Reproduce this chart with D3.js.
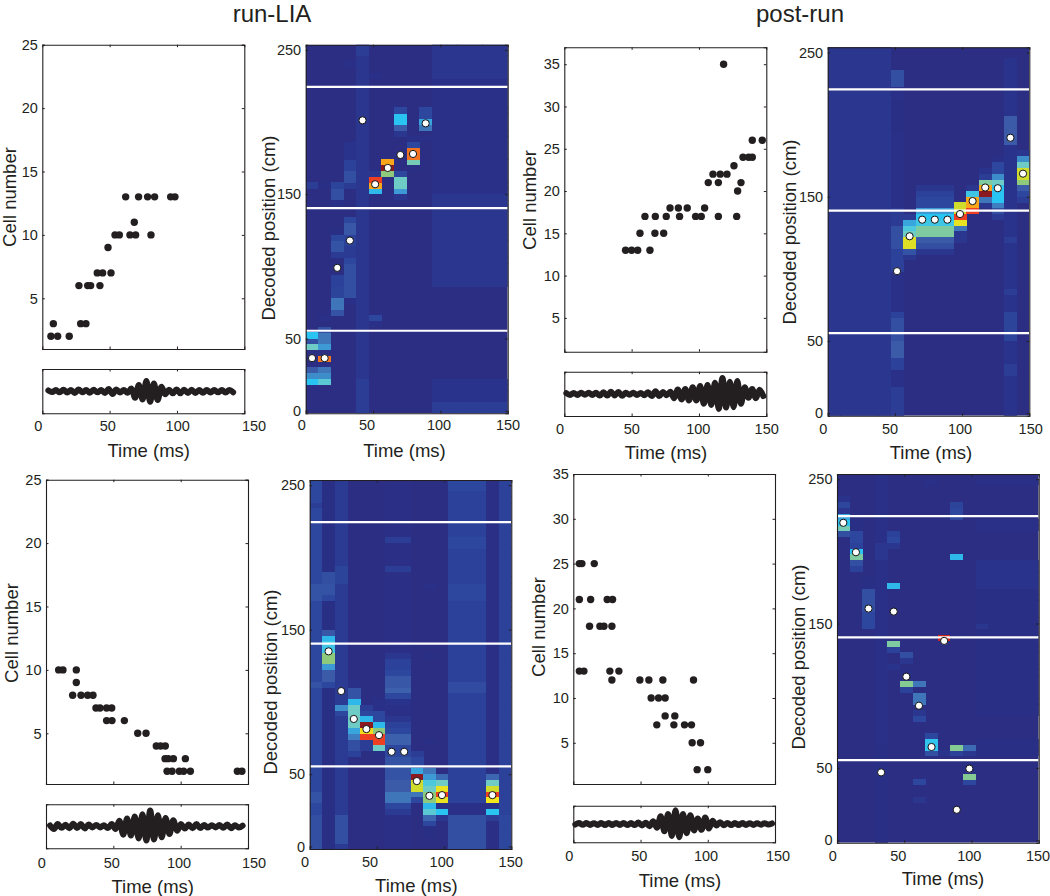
<!DOCTYPE html>
<html><head><meta charset="utf-8">
<script src="https://cdnjs.cloudflare.com/ajax/libs/d3/7.8.5/d3.min.js"></script>
<style>
html,body{margin:0;padding:0;background:#fff}
text{font-family:"Liberation Sans",Arial,sans-serif;fill:#231f20}
</style></head><body><svg id="c" width="1050" height="896"></svg>
<script>
const titles = ["run-LIA", "post-run"];
const timeBinMs = 9.375, posBinCm = 4, posOriginCm = -1.8, nCols = 16, nRows = 64;
const boundariesCm = [224.4, 140.4, 55.4];
const heatTicks = [0, 50, 150, 250];
const timeTicks = [0, 50, 100, 150];

// raster: [cell, [spike times ms]]
const rasterA = [[13,[61.9,71.5,78.2,83.4,95.3,98.5]],[11,[68.3]],[10,[54,57.2,65.1,69.3,80.7]],[9,[48.8]],[7,[40.8,44.8,51]],[6,[27.2,33.7,35.9,42.8]],[3,[8.2,28.5,32.4]],[2,[6.4,11.4,20]]];
const rasterB = [[35,[118.3]],[26,[139.6,147]],[24,[132.7,136.9,139.6]],[23,[126]],[22,[110.4,115.8,120.8]],[21,[106.9,114.4,131.2]],[20,[128.7]],[18,[78.5,84.7,91.3,104.2]],[17,[59.9,67.6,75.7,85.6,97.5,101.7,114.4,128]],[15,[56.2,67.3,73.8]],[13,[45.5,50,54.5,63.6]]];
const rasterC = [[10,[9.4,12.6,22.5]],[9,[22.5]],[8,[19.8,26,30.9,34.9]],[7,[37.1,40.1,45,48.8]],[6,[45,49,58.2]],[5,[68.1,74.3]],[4,[81.9,85.1,88.6]],[3,[88.4,90.8,94.6,103.5]],[2,[89.9,93.6,99,102.2,107.2,142.1,145.5]]];
const rasterD = [[25,[4.5,6.4,15.6]],[21,[4.5,12.9,25.2,29.2]],[18,[12.1,19.8,22.8,28.7]],[13,[4.5,7.9,27.2,33.9]],[12,[28.7,49.5,56.2,66.6,89.4]],[10,[57.9,63.4,68.3]],[8,[68.3,75.5]],[7,[62.1,74.8,82.7,87.9]],[5,[88.4,94.6]],[2,[92.1,100]]];

// ripple-band trace: signed samples
const lfpA = [.03,-.04,.05,-.05,.06,-.06,.05,-.08,.08,-.05,.05,-.07,.06,-.05,.05,-.08,.1,-.13,.08,-.06,.05,-.07,.12,-.3,.28,-.38,.46,-.48,.34,-.4,.2,-.14,.06,-.1,.08,-.1,.06,-.08,.06,-.08,.05,-.07,.05,-.06,.05,-.05,.05,-.06,.05,-.05];
const lfpB = [.03,-.05,.04,-.05,.05,-.04,.05,-.05,.05,-.08,.07,-.08,.09,-.07,.08,-.09,.05,-.04,.05,-.05,.04,-.06,.07,-.1,.12,-.1,.08,-.06,.1,-.2,.2,-.25,.22,-.3,.3,-.3,.35,-.45,.4,-.5,.5,-.68,.72,-.62,.55,-.6,.58,-.45,.3,-.18,.22,-.2,.18,-.1];
const lfpC = [.04,-.12,.1,-.07,.07,-.09,.12,-.08,.1,-.1,.08,-.05,.06,-.05,.05,-.08,.1,-.12,.25,-.38,.35,-.42,.45,-.55,.55,-.65,.72,-.6,.5,-.5,.38,-.35,.28,-.2,.1,-.1,.08,-.09,.1,-.08,.06,-.06,.05,-.05,.06,-.07,.08,-.09,.05,-.06,.03];
const lfpD = [-.03,.05,-.04,.05,-.05,.04,-.05,.05,-.05,.05,-.05,.06,-.05,.06,-.06,.05,-.06,.08,-.08,.07,-.12,.15,-.2,.42,-.4,.55,-.65,.75,-.72,.55,-.5,.48,-.35,.3,-.32,.35,-.25,.18,-.08,.1,-.07,.06,-.06,.05,-.05,.05,-.05,.04,-.05,.04,-.04,.04,-.03,.03];

// decoded position per time bin: [column, cm]
const decodedA = [[0,36.4],[1,36.4],[2,99],[3,117.9],[4,201.2],[5,156.9],[6,168.2],[7,177.2],[8,177.9],[9,199.1]];
const decodedB = [[5,98.4],[6,122.6],[7,134.1],[8,134.1],[9,134.1],[10,138],[11,147],[12,156.4],[13,155.9],[14,190.9],[15,166]];
const decodedC = [[1,135],[2,107.5],[3,88.2],[4,81.2],[5,77],[6,65.5],[7,65.5],[8,45.2],[9,35],[10,35.5],[14,35.5]];
const decodedD = [[0,219.8],[1,199.4],[2,160.4],[3,46.9],[4,158.3],[5,113.2],[6,93.1],[7,64.5],[8,138],[9,21],[10,49.5]];

// posterior probability, as runs: [firstCol, lastCol, firstRow, endRow, value]
const heatA = [
[4,4,0,64,.05],[4,4,0,6,.07],[4,4,62,64,.07],
[10,15,0,2,.07],[10,15,2,6,.04],[10,15,22,38,.05],[10,15,38,58,.03],[10,15,58,64,.05],
[0,0,39,40,.07],[1,1,39,40,.02],[2,2,39,40,.09],[2,2,37,39,.12],[2,2,36,37,.03],
[3,3,44,47,.04],[3,3,42,44,.08],[3,3,40,42,.12],[3,3,39,40,.06],[3,3,60,61,.03],
[2,2,31,32,.02],[2,2,30,31,.1],[2,2,28,30,.13],[2,2,27,28,.06],[2,2,22,24,.08],[2,2,20,22,.09],[2,2,18,20,.2],[2,2,17,18,.13],
[3,3,33,34,.1],[3,3,31,33,.14],[3,3,29,31,.08],[3,3,27,29,.06],[3,3,26,27,.1],[3,3,20,26,.12],[3,3,19,20,.03],
[1,1,16,17,.03],[1,1,14,15,.12],[1,1,12,14,.2],[1,1,11,12,.28],[1,1,9,10,.85],[1,1,7,8,.2],[1,1,6,7,.25],[1,1,5,6,.42],
[0,0,13,14,.35],[0,0,12,13,.12],[0,0,11,12,.45],[0,0,7,8,.15],[0,0,6,7,.25],[0,0,5,6,.35],
[5,5,16,17,.1],[5,5,15,16,.03],[5,5,58,59,.03],[5,5,41,42,.05],[5,5,40,41,.9],[5,5,39,40,.8],[5,5,38,39,.33],
[6,6,43,44,.8],[6,6,42,43,1],[6,6,41,42,.55],
[7,7,52,53,.1],[7,7,50,52,.35],[7,7,49,50,.15],[7,7,48,49,.05],[7,7,41,42,.1],[7,7,39,41,.45],[7,7,38,39,.28],[7,7,37,38,.05],
[8,8,46,47,.1],[8,8,44,46,.85],[8,8,43,44,.47],[8,8,42,43,.02],
[9,9,51,53,.1],[9,9,50,51,.3],[9,9,49,50,.2],[8,9,47,48,.03]];
const heatB = [
[0,4,0,64,.05],[5,5,0,5,.07],[5,5,5,8,.03],[5,5,8,10,.08],[5,5,10,13,.15],[5,5,13,17,.12],[5,5,17,18,.08],[5,5,18,25,.03],[5,5,25,29,.08],[5,5,29,33,.12],[5,5,33,36,.06],[5,5,36,49,.03],[5,5,49,55,.02],[5,5,55,57,.03],[5,5,57,60,.12],
[6,6,34,35,.06],[6,6,33,34,.3],[6,6,32,33,.4],[6,6,31,32,.45],[6,6,29,31,.68],[6,6,28,29,.13],[6,6,27,28,.05],
[7,9,39,40,.05],[7,9,38,39,.08],[7,9,36,38,.1],[7,9,35,36,.28],[7,9,34,35,.35],[7,9,33,34,.38],[7,9,31,33,.5],[7,9,30,31,.15],[7,9,29,30,.12],[7,9,28,29,.05],
[10,10,35,37,.65],[10,10,34,35,.9],[10,10,33,34,.7],[10,10,32,33,.2],[10,10,30,32,.05],
[11,11,39,40,.05],[11,11,38,39,.38],[11,11,36,38,.8],[11,11,35,36,.9],
[12,12,42,43,.04],[12,12,41,42,.07],[12,12,40,41,.5],[12,12,39,40,.8],[12,12,38,39,1],[12,12,37,38,.2],[12,12,36,37,.05],
[13,13,44,45,.03],[13,13,42,44,.1],[13,13,41,42,.25],[13,13,40,41,.45],[13,13,37,40,.35],[13,13,36,37,.22],[13,13,35,36,.12],[13,13,34,35,.06],
[14,14,0,62,.04],[14,14,47,52,.15],[14,14,30,31,.07],[14,14,21,22,.07],[14,14,13,18,.09],[14,14,7,9,.07],
[15,15,45,46,.05],[15,15,44,45,.25],[15,15,43,44,.45],[15,15,41,43,.65],[15,15,40,41,.55],[15,15,39,40,.15],[15,15,38,39,.1],[15,15,37,38,.07]];
const heatC = [
[0,0,0,64,.1],[0,0,43,46,.13],[0,0,28,29,.13],[0,0,0,6,.12],[0,0,59,60,.07],[0,0,8,10,.13],
[1,1,0,64,.02],[1,1,46,48,.12],[1,1,44,46,.13],[1,1,43,44,.1],[1,1,37,38,.14],[1,1,36,37,.33],[1,1,34,36,.38],[1,1,32,34,.55],[1,1,31,32,.28],[1,1,29,31,.15],[1,1,28,29,.1],
[2,2,0,64,.06],[2,2,46,49,.09],[2,2,24,25,.25],[2,2,23,24,.1],[2,2,1,6,.12],
[3,3,28,29,.03],[3,3,26,28,.13],[3,3,25,26,.33],[3,3,21,25,.45],[3,3,20,21,.3],[3,3,19,20,.22],[3,3,17,19,.12],[3,3,16,17,.08],
[4,4,24,25,.07],[4,4,23,24,.1],[4,4,22,23,.33],[4,4,21,22,1],[4,4,20,21,.73],[4,4,19,20,.9],[4,4,17,19,.07],
[5,5,24,26,.03],[5,5,22,24,.1],[5,5,21,22,.33],[5,5,20,21,.55],[5,5,18,20,.9],[5,5,17,18,.45],[5,5,16,17,.02],
[6,7,0,64,.01],[6,7,33,34,.05],[6,7,31,33,.08],[6,7,30,31,.1],[6,7,28,30,.14],[6,7,27,28,.16],[6,7,26,27,.1],[6,7,25,26,.04],[6,7,24,25,.03],[6,7,22,23,.05],[6,7,21,22,.08],[6,7,20,21,.1],[6,7,18,20,.16],[6,7,16,18,.1],[6,7,12,16,.13],[6,7,10,12,.15],[6,7,8,10,.2],[6,7,7,8,.1],[6,7,6,7,.06],[6,7,53,54,.07],[6,7,48,49,.07],
[8,8,16,17,.07],[8,8,14,16,.1],[8,8,13,14,.3],[8,8,12,13,1],[8,8,10,12,.65],[8,8,9,10,.2],[8,8,8,9,.1],
[9,9,18,19,.02],[9,9,13,14,.2],[9,9,12,13,.28],[9,9,11,12,.4],[9,9,10,11,.45],[9,9,8,10,.55],[9,9,7,8,.33],[9,9,6,7,.42],[9,9,5,6,.17],[9,9,4,5,.1],[9,9,2,4,.02],[9,9,45,46,.03],[9,9,33,34,.02],
[10,10,12,13,.18],[10,10,11,12,.45],[10,10,10,11,.7],[10,10,9,10,.9],[10,10,8,9,.7],[10,10,7,8,.03],[10,10,6,7,.35],[10,10,5,6,.05],
[11,13,0,64,.08],[11,13,62,64,.1],[11,13,0,6,.12],[11,13,6,8,.03],[11,13,52,54,.1],[11,13,43,46,.1],[11,13,27,29,.11],
[14,14,0,64,.01],[14,14,12,13,.17],[14,14,11,12,.45],[14,14,10,11,.65],[14,14,9,10,.9],[14,14,8,9,.72],[14,14,7,8,.03],[14,14,6,7,.35],[14,14,5,6,.07],
[15,15,0,64,.08],[15,15,0,6,.1]];
const heatD = [
[3,3,17,64,.03],[3,3,49,52,.05],[3,3,0,17,.02],
[0,0,59,60,.04],[0,0,58,59,.1],[0,0,57,58,.05],[0,0,56,57,.3],[0,0,55,56,.35],[0,0,54,55,.47],[0,0,53,54,.12],
[1,1,54,56,.02],[1,1,52,54,.1],[1,1,51,52,.08],[1,1,50,51,.35],[1,1,49,50,.5],[1,1,48,49,.12],[1,1,47,48,.08],
[2,2,44,46,.02],[2,2,40,44,.12],[2,2,38,40,.1],[2,2,37,38,.1],
[4,4,53,54,.08],[4,4,52,53,.1],[4,4,51,52,.05],[4,4,44,45,.33],[4,4,34,35,.5],[4,4,33,34,.08],[4,4,30,31,.04],
[5,5,32,33,.12],[5,5,31,32,.05],[5,5,28,30,.02],[5,5,27,28,.52],[5,5,26,27,.08],
[6,6,27,28,.2],[6,6,24,26,.2],[6,6,22,23,.05],[6,6,21,22,.1],[6,6,10,11,.1],[6,6,7,8,.05],
[7,7,62,63,.03],[7,7,18,19,.1],[7,7,16,18,.36],[7,7,15,16,.12],
[8,8,35,36,.95],[8,8,15,16,.04],
[9,9,58,59,.09],[9,9,56,58,.1],[9,9,49,50,.33],[9,9,16,17,.52],[9,9,15,16,.08],[9,9,35,36,.03],
[10,10,16,17,.18],[10,10,15,16,.05],[10,10,12,14,.02],[10,10,11,12,.52],[10,10,10,11,.1],
[11,15,62,63,.03],[11,15,54,56,.025],[11,15,44,49,.04],[11,15,22,44,.02],[11,15,15,18,.02],[11,11,37,38,.05]];

const probStops = [0,.03,.06,.1,.15,.2,.28,.35,.45,.55,.65,.72,.8,.86,.92,1];
const probColors = ["#2b2e83","#2a3088","#2b3a93","#2d479e","#3b5ba9","#3f76ba","#3d9ad5","#2ac4f2","#6fcbc5","#8fca7c","#cfdc2b","#f5e61d","#faa61a","#f26a21","#ee2a24","#8a1a1f"];
const colour = d3.scaleLinear().domain(probStops).range(probColors);

const ink = "#231f20";
const panels = [
 {type:"raster",x:[42.3,244.3],y:[44.7,349],dom:[1,25],ticks:[5,10,15,20,25],spikes:rasterA,lfp:lfpA,t0:4.5,dt:2.8,ly:[369,413.3],lab:[38.3,107.7,177.7,254],ty:426,tl:[148.7,450],yl:[9.5,197]},
 {type:"heat",x:[305.7,507.7],y:[44.7,413.3],heat:heatA,dec:decodedA,lab:[301.7,367,439,508],ty:425,tl:[404.5,450],yl:[268,228]},
 {type:"raster",x:[564.3,766.3],y:[47.3,351.7],dom:[1,37],ticks:[5,10,15,20,25,30,35],spikes:rasterB,lfp:lfpB,t0:1.5,dt:2.76,ly:[371.7,416],lab:[560,631.7,698.3,766.7],ty:429,tl:[666,452],yl:[529,200]},
 {type:"heat",x:[827.7,1029.3],y:[47.3,415.7],heat:heatB,dec:decodedB,lab:[823.3,890,960,1030.7],ty:429,tl:[931,452],yl:[789,232]},
 {type:"raster",x:[46,248],y:[479.7,784],dom:[1,25],ticks:[5,10,15,20,25],spikes:rasterC,lfp:lfpC,t0:3,dt:2.86,ly:[804.3,848.3],lab:[41.7,111.7,179,254],ty:863,tl:[152.7,886],yl:[11,633]},
 {type:"heat",x:[309.7,511.3],y:[480,849],heat:heatC,dec:decodedC,lab:[305,370,441.7,510.7],ty:862,tl:[416.3,885],yl:[270,682]},
 {type:"raster",x:[573.3,775],y:[474,784],dom:[.4,35],ticks:[5,10,15,20,25,30,35],spikes:rasterD,lfp:lfpD,t0:1.5,dt:2.76,ly:[805.7,842.3],lab:[569.3,639.3,706,778],ty:856,tl:[680,880],yl:[538,627]},
 {type:"heat",x:[837,1038.7],y:[474,842.7],heat:heatD,dec:decodedD,lab:[832.7,898.3,969.3,1038],ty:856,tl:[943,878],yl:[798,657]}
];

const svg = d3.select("#c");
const titleXY = [[272,22],[800,22]];
svg.selectAll("text.title").data(titles).join("text").attr("class","title")
  .attr("x",(d,i)=>titleXY[i][0]).attr("y",(d,i)=>titleXY[i][1]).attr("text-anchor","middle")
  .attr("font-size",24).text(d=>d);

function box(g,x,y,xt,yt){
  const mk=(gen,scale,tv,tr)=>{const a=g.append("g").attr("transform",tr).call(gen(scale).tickValues(tv).tickSize(-2.5).tickFormat(""));
    a.selectAll("line").attr("stroke",ink).attr("stroke-width",1);a.select(".domain").attr("stroke",ink).attr("stroke-width",1.1);return a;};
  mk(d3.axisBottom,x,xt,`translate(0,${y.range()[0]})`);
  mk(d3.axisTop,x,xt,`translate(0,${y.range()[1]})`);
  mk(d3.axisLeft,y,yt,`translate(${x.range()[0]},0)`);
  mk(d3.axisRight,y,yt,`translate(${x.range()[1]},0)`);
}
function labels(g,p,yscale,yticks,xs){
  g.selectAll("text.xl").data(timeTicks).join("text").attr("class","xl").attr("x",(d,i)=>p.lab[i]).attr("y",p.ty).attr("dy",".36em")
   .attr("text-anchor","middle").attr("font-size",14.5).text(d=>d);
  g.selectAll("text.yl").data(yticks).join("text").attr("class","yl").attr("x",xs.range()[0]-4.5).attr("y",d=>yscale(d)).attr("dy",".36em")
   .attr("text-anchor","end").attr("font-size",14.5).text(d=>d);
  g.append("text").attr("x",p.tl[0]).attr("y",p.tl[1]).attr("dy",".36em").attr("text-anchor","middle").attr("font-size",18.5).text("Time (ms)");
  g.append("text").attr("transform",`translate(${p.yl[0]},${p.yl[1]}) rotate(-90)`).attr("dy",".36em").attr("text-anchor","middle").attr("font-size",18.5)
   .text(p.type==="raster"?"Cell number":"Decoded position (cm)");
}
panels.forEach(p=>{
  const g=svg.append("g");
  const x=d3.scaleLinear().domain([0,150]).range(p.x);
  if(p.type==="raster"){
    const y=d3.scaleLinear().domain(p.dom).range([p.y[1],p.y[0]]);
    g.selectAll("circle.s").data(p.spikes.flatMap(([c,ts])=>ts.map(t=>({c,t})))).join("circle").attr("class","s")
      .attr("cx",d=>x(d.t)).attr("cy",d=>y(d.c)).attr("r",3.7).attr("fill",ink);
    box(g,x,y,[50,100],p.ticks);
    const ly=d3.scaleLinear().domain([-1,1]).range([p.ly[1],p.ly[0]]);
    const line=d3.line().x((d,i)=>x(p.t0+i*p.dt)).y(d=>ly(d)).curve(d3.curveCatmullRom.alpha(.5));
    g.append("path").datum(p.lfp).attr("d",line).attr("fill","none").attr("stroke",ink).attr("stroke-width",6).attr("stroke-linecap","round").attr("stroke-linejoin","round");
    box(g,x,ly,[50,100],[]);
    labels(g,p,y,p.ticks,x);
  } else {
    const domY=[-1.8,253.6];
    const y=d3.scaleLinear().domain(domY).range([p.y[1],p.y[0]]);
    const m=d3.range(nCols).map(()=>new Array(nRows).fill(0));
    p.heat.forEach(([c0,c1,r0,r1,v])=>{for(let c=c0;c<=c1;c++)for(let r=r0;r<r1;r++)m[c][r]=v;});
    const cells=[];m.forEach((col,c)=>col.forEach((v,r)=>cells.push({c,r,v})));
    const cid="clip"+Math.round(p.x[0]);
    g.append("clipPath").attr("id",cid).append("rect").attr("x",p.x[0]).attr("y",p.y[0]).attr("width",p.x[1]-p.x[0]).attr("height",p.y[1]-p.y[0]);
    const cg=g.append("g").attr("clip-path",`url(#${cid})`);
    cg.append("rect").attr("x",p.x[0]).attr("y",p.y[0]).attr("width",p.x[1]-p.x[0]).attr("height",p.y[1]-p.y[0]).attr("fill",colour(0));
    cg.selectAll("rect.c").data(cells.filter(d=>d.v>0)).join("rect").attr("class","c").attr("shape-rendering","crispEdges")
      .attr("x",d=>x(d.c*timeBinMs)).attr("width",d=>x(timeBinMs)-x(0)+.4)
      .attr("y",d=>y(posOriginCm+(d.r+1)*posBinCm)).attr("height",d=>y(0)-y(posBinCm)+.4)
      .attr("fill",d=>colour(d.v));
    cg.selectAll("line.b").data(boundariesCm).join("line").attr("class","b").attr("x1",p.x[0]).attr("x2",p.x[1]).attr("y1",d=>y(d)).attr("y2",d=>y(d)).attr("stroke","#fff").attr("stroke-width",2.2);
    cg.selectAll("circle.d").data(p.dec).join("circle").attr("class","d").attr("cx",d=>x((d[0]+.5)*timeBinMs)).attr("cy",d=>y(d[1])).attr("r",3.6).attr("fill","#fff").attr("stroke","#111").attr("stroke-width",1);
    box(g,x,y,[50,100],heatTicks);
    labels(g,p,y,heatTicks,x);
  }
});
</script></body></html>
